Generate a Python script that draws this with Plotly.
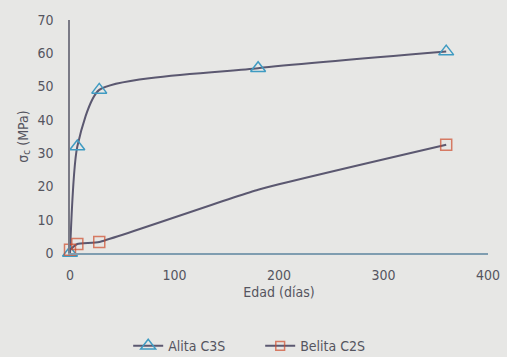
import plotly.graph_objects as go

alita_x = [0, 7, 28, 180, 360]
alita_y = [0, 32, 49, 55.5, 60.5]
belita_x = [0, 7, 28, 180, 360]
belita_y = [1, 2.7, 3.3, 19, 32.5]
belita_marker_sizes = [11, 11, 11, 0, 11]
x_ticks = [0, 100, 200, 300, 400]
y_ticks = [0, 10, 20, 30, 40, 50, 60, 70]

FONT = "DejaVu Sans Condensed, Liberation Sans Narrow, Roboto, sans-serif"
LINE = "#5b5870"

fig = go.Figure()
fig.add_trace(go.Scatter(
    x=alita_x, y=alita_y, name="Alita C3S", mode="lines+markers",
    line=dict(color=LINE, width=2, shape="spline", smoothing=0.6),
    marker=dict(symbol="triangle-up-open", size=13, color="#3f9bc2", line=dict(width=1.5)),
    cliponaxis=False,
))
fig.add_trace(go.Scatter(
    x=belita_x, y=belita_y, name="Belita C2S", mode="lines+markers",
    line=dict(color=LINE, width=2, shape="spline", smoothing=0.4),
    marker=dict(symbol="square-open", size=belita_marker_sizes, color="#cf4b2c", line=dict(width=1.5)),
    cliponaxis=False,
))

fig.update_layout(
    width=507, height=357,
    margin=dict(l=70, r=19, t=20, b=104, autoexpand=False),
    paper_bgcolor="#e7e7e5", plot_bgcolor="#e7e7e5",
    font=dict(family=FONT, size=14, color="#55555f"),
    showlegend=True,
    legend=dict(orientation="h", x=0.455, xanchor="center", y=-0.4, yanchor="middle",
                entrywidth=87, entrywidthmode="pixels",
                font=dict(size=14, color="#55555f"), bgcolor="rgba(0,0,0,0)"),
    xaxis=dict(range=[0, 400], tickvals=x_ticks, showgrid=False, zeroline=False,
               showline=True, linecolor="#7f9db0", linewidth=1.5,
               ticks="outside", ticklen=8, tickcolor="rgba(0,0,0,0)",
               title=dict(text="Edad (días)", standoff=6, font=dict(size=14))),
    yaxis=dict(range=[0, 70], tickvals=y_ticks, showgrid=False, zeroline=False,
               showline=True, linecolor="#7a7a86", linewidth=1.5,
               ticks="outside", ticklen=12, tickcolor="rgba(0,0,0,0)",
               title=dict(text="σ<sub>c</sub> (MPa)", standoff=6, font=dict(size=14))),
)

fig.write_html(
    "out.html",
    config={"displayModeBar": False},
    post_script="document.body.style.margin='0';document.body.style.background='#e7e7e5';",
)
